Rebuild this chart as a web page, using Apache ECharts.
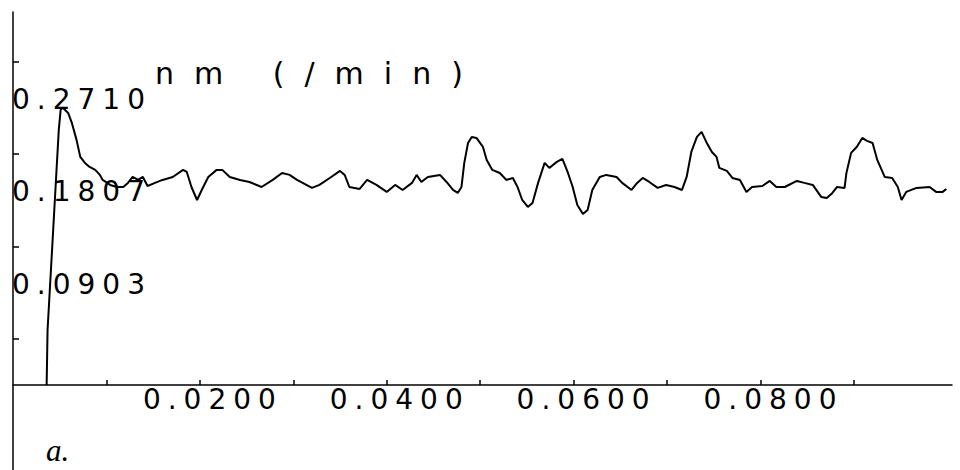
<!DOCTYPE html>
<html>
<head>
<meta charset="utf-8">
<script src="https://cdn.jsdelivr.net/npm/echarts@6/dist/echarts.min.js"></script>
<style>
  html, body { margin: 0; padding: 0; background: #fff; }
  #chart { width: 960px; height: 470px; }
  /* wide plotter-style lettering */
  #chart text[style*="28px"] { letter-spacing: 7px; }
  #chart text[style*="30px"] { letter-spacing: 20px; }
</style>
</head>
<body>
<div id="chart"></div>
<script>
// time (min) of each sample
const timeMin = [
  0.0036, 0.0037, 0.0040, 0.0043, 0.0046, 0.0049, 0.0051, 0.0053, 0.0059, 0.0063,
  0.0068, 0.0072, 0.0077, 0.0082, 0.0088, 0.0093, 0.0096, 0.0104, 0.0111, 0.0118,
  0.0123, 0.0128, 0.0134, 0.0139, 0.0144, 0.0152, 0.0160, 0.0171, 0.0182, 0.0186,
  0.0191, 0.0197, 0.0202, 0.0209, 0.0218, 0.0224, 0.0232, 0.0243, 0.0253, 0.0266,
  0.0278, 0.0288, 0.0296, 0.0304, 0.0310, 0.0320, 0.0328, 0.0339, 0.0350, 0.0355,
  0.0360, 0.0371, 0.0379, 0.0389, 0.0400, 0.0409, 0.0417, 0.0427, 0.0432, 0.0437,
  0.0444, 0.0457, 0.0464, 0.0471, 0.0476, 0.0480, 0.0483, 0.0487, 0.0491, 0.0496,
  0.0503, 0.0507, 0.0513, 0.0521, 0.0528, 0.0535, 0.0540, 0.0545, 0.0551, 0.0556,
  0.0562, 0.0569, 0.0574, 0.0582, 0.0588, 0.0594, 0.0599, 0.0604, 0.0610, 0.0615,
  0.0620, 0.0628, 0.0635, 0.0646, 0.0652, 0.0662, 0.0668, 0.0674, 0.0681, 0.0690,
  0.0699, 0.0708, 0.0716, 0.0721, 0.0726, 0.0732, 0.0737, 0.0742, 0.0748, 0.0753,
  0.0756, 0.0764, 0.0770, 0.0778, 0.0785, 0.0791, 0.0802, 0.0810, 0.0817, 0.0826,
  0.0839, 0.0847, 0.0856, 0.0865, 0.0871, 0.0877, 0.0882, 0.0890, 0.0892, 0.0897,
  0.0903, 0.0909, 0.0914, 0.0920, 0.0925, 0.0933, 0.0941, 0.0947, 0.0951, 0.0956,
  0.0967, 0.0981, 0.0988, 0.0995, 0.0999
];

// rate in nm per minute
const rateNm = [
  0.0000, 0.0537, 0.1026, 0.1514, 0.2003, 0.2491, 0.2687, 0.2710, 0.2657, 0.2560,
  0.2394, 0.2228, 0.2169, 0.2130, 0.2101, 0.2052, 0.2003, 0.1954, 0.1934, 0.1934,
  0.1974, 0.2032, 0.2003, 0.2032, 0.1944, 0.1974, 0.2003, 0.2032, 0.2101, 0.2081,
  0.1934, 0.1807, 0.1905, 0.2032, 0.2101, 0.2101, 0.2032, 0.2003, 0.1983, 0.1934,
  0.2003, 0.2071, 0.2052, 0.2003, 0.1974, 0.1925, 0.1954, 0.2022, 0.2091, 0.2052,
  0.1934, 0.1915, 0.2003, 0.1954, 0.1886, 0.1954, 0.1905, 0.1974, 0.2052, 0.1983,
  0.2032, 0.2052, 0.1983, 0.1905, 0.1876, 0.1934, 0.2169, 0.2364, 0.2423, 0.2413,
  0.2325, 0.2198, 0.2101, 0.2071, 0.2003, 0.2022, 0.1934, 0.1807, 0.1739, 0.1778,
  0.1974, 0.2169, 0.2120, 0.2179, 0.2208, 0.2071, 0.1934, 0.1759, 0.1671, 0.1710,
  0.1905, 0.2032, 0.2052, 0.2032, 0.1974, 0.1905, 0.1974, 0.2022, 0.1983, 0.1925,
  0.1954, 0.1934, 0.1905, 0.2032, 0.2276, 0.2423, 0.2472, 0.2374, 0.2276, 0.2228,
  0.2120, 0.2091, 0.2022, 0.2003, 0.1886, 0.1934, 0.1944, 0.1993, 0.1934, 0.1934,
  0.1993, 0.1974, 0.1954, 0.1837, 0.1827, 0.1876, 0.1934, 0.1925, 0.2071, 0.2267,
  0.2325, 0.2413, 0.2384, 0.2364, 0.2198, 0.2032, 0.2022, 0.1934, 0.1807, 0.1886,
  0.1925, 0.1934, 0.1886, 0.1886, 0.1915
];

// axis marks
const xTickValues = [0.01, 0.02, 0.03, 0.04, 0.05, 0.06, 0.07, 0.08, 0.09];
const xLabelValues = [0.02, 0.04, 0.06, 0.08];
const yLabelValues = [0.0903, 0.1807, 0.2710];
const yTickValues = [0.0452, 0.1355, 0.2258, 0.3161];

const titleText = 'nm (/min)';
const panelText = 'a.';

const ink = '#000';
const plotFont = 'DejaVu Sans';

// the value axis runs a little below zero so its line continues under the time axis
const yMin = -0.083;
const yMax = 0.3643;
const gridTop = 12;
const gridHeight = 458;
const zeroOffset = gridHeight * (0 - yMin) / (yMax - yMin);

const chart = echarts.init(document.getElementById('chart'), null, { renderer: 'svg' });

chart.setOption({
  animation: false,
  backgroundColor: '#fff',
  title: [
    {
      text: titleText,
      left: 150,
      top: 53,
      textStyle: { fontFamily: plotFont, fontSize: 30, fontWeight: 'normal', color: ink }
    },
    {
      text: panelText,
      left: 46,
      top: 435,
      textStyle: { fontFamily: 'Liberation Serif', fontStyle: 'italic', fontSize: 31, fontWeight: 'normal', color: ink },
      padding: 0
    }
  ],
  grid: { left: 13, right: 8, top: gridTop, height: gridHeight, outerBoundsMode: 'none', containLabel: false },
  xAxis: {
    type: 'value',
    min: 0,
    max: 0.1005,
    position: 'bottom',
    offset: -zeroOffset,
    axisLine: { show: true, onZero: false, lineStyle: { color: ink, width: 1.5 } },
    axisTick: {
      show: true, inside: true, length: 5,
      customValues: xTickValues,
      lineStyle: { color: ink, width: 1.5 }
    },
    axisLabel: {
      customValues: xLabelValues,
      formatter: v => v.toFixed(4),
      color: ink,
      fontFamily: plotFont,
      fontSize: 28,
      margin: 0,
      padding: [0, 0, 0, 26]
    },
    splitLine: { show: false }
  },
  yAxis: {
    type: 'value',
    min: yMin,
    max: yMax,
    axisLine: { show: true, onZero: false, lineStyle: { color: ink, width: 1.5 } },
    axisTick: {
      show: true, inside: true, length: 6,
      customValues: yTickValues,
      lineStyle: { color: ink, width: 1.5 }
    },
    axisLabel: {
      inside: true,
      customValues: yLabelValues,
      formatter: v => v.toFixed(4),
      align: 'left',
      verticalAlign: 'bottom',
      lineHeight: 16,
      margin: -1,
      color: ink,
      fontFamily: plotFont,
      fontSize: 28
    },
    splitLine: { show: false }
  },
  series: [
    {
      type: 'line',
      data: timeMin.map((t, i) => [t, rateNm[i]]),
      showSymbol: false,
      smooth: false,
      lineStyle: { color: ink, width: 2 }
    }
  ]
});
</script>
</body>
</html>
